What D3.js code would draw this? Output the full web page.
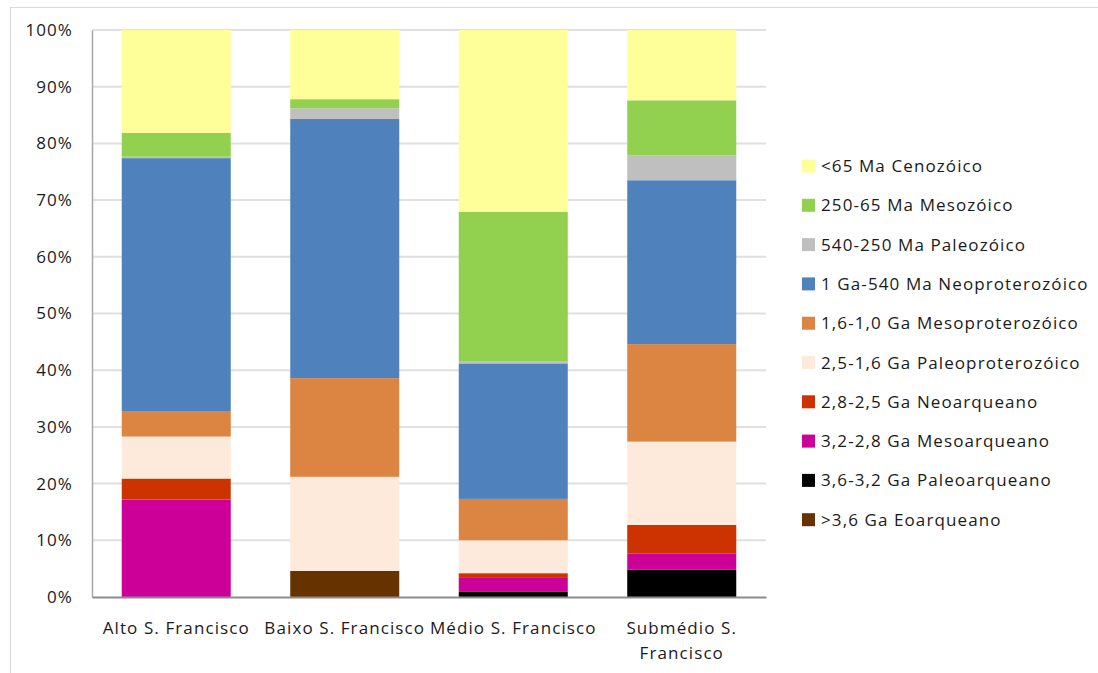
<!DOCTYPE html>
<html>
<head>
<meta charset="utf-8">
<script src="https://cdn.jsdelivr.net/npm/d3@7"></script>
<style>
  html, body { margin: 0; padding: 0; background: #fff; }
  svg { display: block; font-family: "Open Sans", "Noto Sans", sans-serif; }
  svg text { letter-spacing: 1.1px; }
</style>
</head>
<body>
<svg id="chart" width="1098" height="673"></svg>
<script>
// Regions of the São Francisco basin (x categories)
const categories = ["Alto S. Francisco", "Baixo S. Francisco", "Médio S. Francisco", "Submédio S. Francisco"];
const categoryLines = [["Alto S. Francisco"], ["Baixo S. Francisco"], ["Médio S. Francisco"], ["Submédio S.", "Francisco"]];

// Geological age classes, stacked from the bottom up
const series = [
  ">3,6 Ga Eoarqueano",
  "3,6-3,2 Ga Paleoarqueano",
  "3,2-2,8 Ga Mesoarqueano",
  "2,8-2,5 Ga Neoarqueano",
  "2,5-1,6 Ga Paleoproterozóico",
  "1,6-1,0 Ga Mesoproterozóico",
  "1 Ga-540 Ma Neoproterozóico",
  "540-250 Ma Paleozóico",
  "250-65 Ma Mesozóico",
  "<65 Ma Cenozóico"
];
const seriesColors = ["#663300", "#000000", "#CC0099", "#CC3300", "#FDEADA", "#DC8441", "#4F81BD", "#BFBFBF", "#92D050", "#FFFF99"];

// Percentage share of each age class per region (one array per region, in series order)
const altoValues     = [0.0, 0.0, 17.2, 3.7, 7.4, 4.5, 44.6, 0.25, 4.2, 18.15];
const baixoValues    = [4.6, 0.0, 0.0, 0.0, 16.6, 17.4, 45.7, 1.9, 1.6, 12.2];
const medioValues    = [0.0, 0.9, 2.6, 0.7, 5.8, 7.3, 23.9, 0.3, 26.4, 32.1];
const submedioValues = [0.0, 4.8, 2.9, 5.0, 14.7, 17.2, 28.9, 4.4, 9.7, 12.4];

const yTicks = [0, 10, 20, 30, 40, 50, 60, 70, 80, 90, 100];
const tickLabels = ["0%", "10%", "20%", "30%", "40%", "50%", "60%", "70%", "80%", "90%", "100%"];

const valueRows = [altoValues, baixoValues, medioValues, submedioValues];
const table = categories.map((c, i) => {
  const row = { category: c };
  series.forEach((s, j) => { row[s] = valueRows[i][j]; });
  return row;
});

const svg = d3.select("#chart");
const textColor = "#1a1a1a";
const fontSize = 17;

// outer chart frame
svg.append("rect")
  .attr("x", 10.5).attr("y", 7.5).attr("width", 1200).attr("height", 800)
  .attr("fill", "none").attr("stroke", "#D9D9D9").attr("stroke-width", 1);

const plot = { left: 92, right: 766, top: 30, bottom: 597 };

const x = d3.scaleBand().domain(categories).range([plot.left, plot.right]).paddingInner(0.353).paddingOuter(0.1765);
const y = d3.scaleLinear().domain([0, 100]).range([plot.bottom, plot.top]);

// gridlines
svg.append("g")
  .selectAll("line")
  .data(yTicks.filter(t => t > 0))
  .join("line")
  .attr("x1", plot.left).attr("x2", plot.right)
  .attr("y1", d => y(d)).attr("y2", d => y(d))
  .attr("stroke", "#E0E0E0").attr("stroke-width", 2);

// stacked bars
const stack = d3.stack().keys(series)(table);
svg.append("g")
  .selectAll("g")
  .data(stack)
  .join("g")
  .attr("fill", (d, i) => seriesColors[i])
  .selectAll("rect")
  .data(d => d)
  .join("rect")
  .attr("x", d => x(d.data.category))
  .attr("width", x.bandwidth())
  .attr("y", d => y(d[1]))
  .attr("height", d => Math.max(0, y(d[0]) - y(d[1])));

// y axis
const yAxis = d3.axisLeft(y).tickValues(yTicks).tickFormat((d, i) => tickLabels[i]).tickSize(0).tickPadding(19);
const gy = svg.append("g").attr("transform", `translate(${plot.left},0)`).call(yAxis);
gy.select(".domain").attr("stroke", "#A6A6A6").attr("stroke-width", 1.5);
gy.selectAll("text").attr("font-size", fontSize).attr("fill", textColor).attr("font-family", "Open Sans, sans-serif");

// x axis
const xAxis = d3.axisBottom(x).tickSize(0).tickFormat(() => "");
const gx = svg.append("g").attr("transform", `translate(0,${plot.bottom})`).call(xAxis);
gx.select(".domain").attr("stroke", "#8C8C8C").attr("stroke-width", 2);

const xl = svg.append("g");
categories.forEach((c, i) => {
  const t = xl.append("text")
    .attr("x", x(c) + x.bandwidth() / 2)
    .attr("y", 634)
    .attr("text-anchor", "middle")
    .attr("font-size", fontSize)
    .attr("fill", textColor);
  categoryLines[i].forEach((line, k) => {
    t.append("tspan").attr("x", x(c) + x.bandwidth() / 2).attr("dy", k === 0 ? 0 : 25).text(line);
  });
});

// legend (top entry is the last stacked series)
const legendOrder = series.slice().reverse();
const legendColors = seriesColors.slice().reverse();
const legend = svg.append("g");
legendOrder.forEach((s, i) => {
  const cy = 166 + i * 39.3;
  legend.append("rect")
    .attr("x", 802).attr("y", cy - 6.5).attr("width", 13).attr("height", 13)
    .attr("fill", legendColors[i]);
  legend.append("text")
    .attr("x", 821).attr("y", cy + 6)
    .attr("font-size", fontSize)
    .attr("fill", textColor)
    .text(s);
});
</script>
</body>
</html>
